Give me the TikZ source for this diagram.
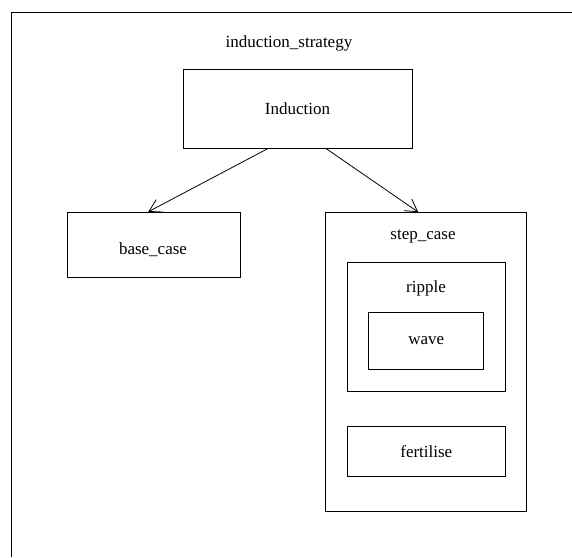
\documentclass[tikz,border=0pt]{standalone}
\usepackage{fontspec}
\setmainfont{Liberation Serif}
\usetikzlibrary{arrows.meta}

\tikzset{
  box/.style={draw, line width=1pt, rectangle, inner sep=0pt},
  lbl/.style={inner sep=0pt, font=\fontsize{17}{20}\selectfont},
  edge/.style={line width=0.8pt, -{Straight Barb[length=12pt,width=14pt,line width=0.8pt]}}
}

\begin{document}
\begin{tikzpicture}[x=1pt, y=-1pt]
            \useasboundingbox (0,0) rectangle (572,557);

            % Cornice esterna
            \draw[line width=1pt] (11,557) -- (11,12) -- (572,12);
            \node[lbl] (strategy) at (289,43) {induction\_strategy};

            % Nodo radice
            \node[box, lbl, minimum width=229pt, minimum height=79pt] (induction) at (297.5,108.5) {Induction};

            % Caso base
            \node[box, minimum width=173pt, minimum height=65pt] (base) at (154.2,244.8) {};
            \node[lbl] (baselbl) at (153,250) {base\_case};

            % Caso passo (contenitore)
            \node[box, minimum width=200.7pt, minimum height=299.3pt] (step) at (426.3,362.3) {};
            \node[lbl] (steplbl) at (423,237) {step\_case};

            % Ripple con wave dentro
            \node[box, minimum width=158pt, minimum height=129pt] (ripple) at (426.3,326.5) {};
            \node[lbl] (ripplelbl) at (426,288) {ripple};
            \node[box, lbl, minimum width=115.3pt, minimum height=57.4pt] (wave) at (426.3,341) {wave};

            % Fertilise
            \node[box, lbl, minimum width=158pt, minimum height=49.7pt] (fertilise) at (426.3,451.8) {fertilise};

            % Frecce
            \draw[edge] ([xshift=-29.5pt]induction.south) -- ([xshift=-6pt]base.north);
            \draw[edge] ([xshift=28.5pt]induction.south) -- ([xshift=-8pt]step.north);
\end{tikzpicture}
\end{document}
